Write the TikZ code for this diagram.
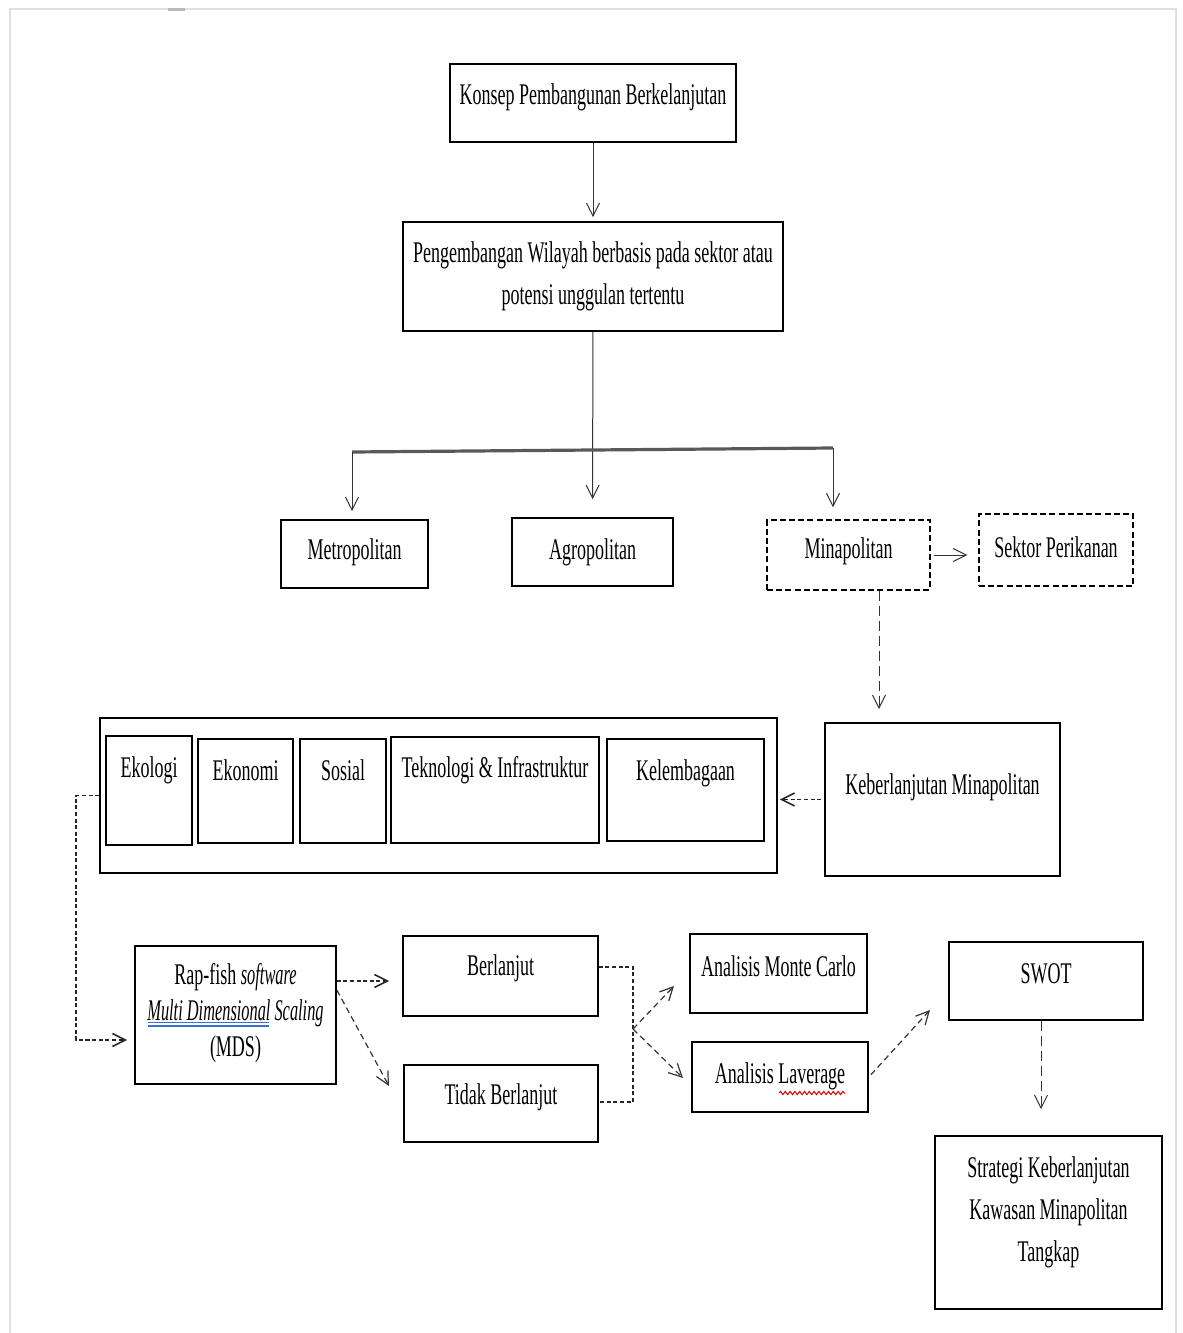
\documentclass[tikz,border=0pt]{standalone}
\usepackage{fontspec}
\setmainfont{Liberation Serif}[FakeStretch=0.6, ItalicFeatures={FakeStretch=0.545}]
\usetikzlibrary{arrows.meta,decorations.pathmorphing}
\definecolor{framec}{HTML}{DCE1E4}
\definecolor{ulblue}{HTML}{3A6FD8}
\begin{document}
\begin{tikzpicture}[x=0.5pt, y=-0.5pt,
  every node/.style={font=\fontsize{15}{21}\selectfont},
  box/.style={draw, line width=0.8pt, inner sep=0pt},
  dbox/.style={draw, line width=0.7pt, dash pattern=on 3pt off 1.6pt, inner sep=0pt},
  T/.style 2 args={label={[align=center, inner sep=0pt, yshift=#1]center:{#2}}},
  tip/.style={-{Straight Barb[length=6.5pt,width=6.5pt]}},
  sarr/.style={tip, line width=0.5pt, draw=black!80},
  bar/.style={line width=1.6pt, draw=black!65},
  ldarr/.style={tip, line width=0.5pt, draw=black!80, dash pattern=on 5pt off 2.5pt},
  sdash/.style={line width=0.8pt, draw=black!85, dash pattern=on 2pt off 1.3pt},
  sdarr/.style={sdash, tip},
  ddarr/.style={tip, line width=0.6pt, draw=black!80, dash pattern=on 3pt off 2pt}]
\useasboundingbox (0,0) rectangle (1183,1333);
% screenshot frame
\draw[framec, line width=1.2pt] (10,1333) -- (10,9) -- (1176,9) -- (1176,1333);
\fill[gray!55] (168,8) rectangle (185,11);

% top
\node[box, minimum width=143pt, minimum height=39pt, T={3pt}{Konsep Pembangunan Berkelanjutan}] (konsep) at (593,103) {};
\node[box, minimum width=190pt, minimum height=54.5pt, T={0pt}{Pengembangan Wilayah berbasis pada sektor atau\\potensi unggulan tertentu}] (peng) at (593,276.5) {};

% row 2
\node[box, minimum width=73.5pt, minimum height=34pt, T={1pt}{Metropolitan}] (metro) at (354.5,554) {};
\node[box, minimum width=80.5pt, minimum height=34pt, T={0pt}{Agropolitan}] (agro) at (592.5,552) {};
\node[dbox, minimum width=81.5pt, minimum height=35pt, T={2pt}{Minapolitan}] (mina) at (848.5,555) {};
\node[dbox, minimum width=77pt, minimum height=36pt, T={1.5pt}{Sektor Perikanan}] (sektor) at (1056,550) {};

% row 3
\node[box, minimum width=338.5pt, minimum height=77.5pt] (outer) at (438.5,795.5) {};
\node[box, minimum width=43pt, minimum height=54.5pt, T={10pt}{Ekologi}] (eko) at (149,790.5) {};
\node[box, minimum width=47.5pt, minimum height=52pt, T={10.5pt}{Ekonomi}] (ekon) at (245.5,791) {};
\node[box, minimum width=43pt, minimum height=52pt, T={10.5pt}{Sosial}] (sos) at (343,791) {};
\node[box, minimum width=104pt, minimum height=53pt, T={10pt}{Teknologi \& Infrastruktur}] (tek) at (495,790) {};
\node[box, minimum width=78.5pt, minimum height=51pt, T={8.5pt}{Kelembagaan}] (kel) at (685.5,790) {};
\node[box, minimum width=117.5pt, minimum height=76.5pt, T={6pt}{Keberlanjutan Minapolitan}] (keb) at (942.5,799.5) {};

% row 4
\node[box, minimum width=100.5pt, minimum height=69pt, T={1pt}{Rap-fish \textit{software}\\[-3pt]\textit{Multi Dimensional Scaling}\\[-3pt](MDS)}] (rap) at (235.5,1015) {};
\node[box, minimum width=97.5pt, minimum height=40pt, T={4pt}{Berlanjut}] (ber) at (500.5,976) {};
\node[box, minimum width=97pt, minimum height=38.5pt, T={3pt}{Tidak Berlanjut}] (tidak) at (501,1103.5) {};
\node[box, minimum width=88.5pt, minimum height=39.5pt, T={3.5pt}{Analisis Monte Carlo}] (monte) at (778.5,973.5) {};
\node[box, minimum width=88pt, minimum height=35pt, T={0.5pt}{Analisis Laverage}] (lav) at (780,1077) {};
\node[box, minimum width=97pt, minimum height=39pt, T={3.5pt}{SWOT}] (swot) at (1046,981) {};
\node[box, minimum width=113.5pt, minimum height=86.5pt, T={5pt}{Strategi Keberlanjutan\\Kawasan Minapolitan\\Tangkap}] (strat) at (1048.5,1222.5) {};

% spell-check marks
\draw[ulblue, line width=0.6pt] (148,1022.5) -- (269,1022.5);
\draw[ulblue, line width=0.6pt] (148,1026) -- (269,1026);
\draw[red!85!black, line width=0.5pt, decorate, decoration={snake, amplitude=0.8pt, segment length=2.4pt}] (779,1093) -- (845,1093);

% connectors
\coordinate (barL) at (352,452);
\coordinate (barR) at (833,448);
\draw[sarr, shorten >=2pt] (konsep) -- (peng);
\draw[sarr, shorten >=9pt] (peng) -- (agro);
\draw[bar] (barL) -- (barR);
\draw[sarr, shorten >=4pt] (barL) -- (barL |- metro.north);
\draw[sarr, shorten >=6pt] (barR) -- (barR |- mina.north);
\draw[sarr, shorten <=1.5pt, shorten >=5.5pt] (mina.east) -- (mina.east -| sektor.west);
\coordinate (mk) at (879,590);
\draw[ldarr, shorten >=6.5pt] (mina.south -| mk) -- (mk |- keb.north);
\draw[sdarr, shorten <=1.5pt, shorten >=1pt] (keb.west) -- (keb.west -| outer.east);
\coordinate (c1) at (76,1040);
\draw[sdarr, shorten >=3.5pt] (outer.west) -| (c1) -- (c1 -| rap.west);
\coordinate (r1) at (336,981);
\draw[sdarr, shorten >=6.5pt] (rap.east |- r1) -- (r1 -| ber.west);
\coordinate (r0) at (336,990);
\coordinate (r2) at (389,1086);
\draw[ddarr] (rap.east |- r0) -- (r2);
\coordinate (b2) at (633,967);
\coordinate (b3) at (633,1102);
\draw[sdash] (ber.east |- b2) -- (b2) -- (b3) -- (tidak.east |- b3);
\coordinate (fork) at (633,1029);
\coordinate (f1) at (674,986);
\coordinate (f2) at (683,1078);
\draw[ddarr] (fork) -- (f1);
\draw[ddarr] (fork) -- (f2);
\coordinate (s1) at (930,1010);
\draw[ddarr, shorten <=1.5pt] (lav.east) -- (s1);
\coordinate (sw) at (1041,0);
\draw[ldarr, shorten >=13pt] (swot.south -| sw) -- (sw |- strat.north);
\end{tikzpicture}
\end{document}
